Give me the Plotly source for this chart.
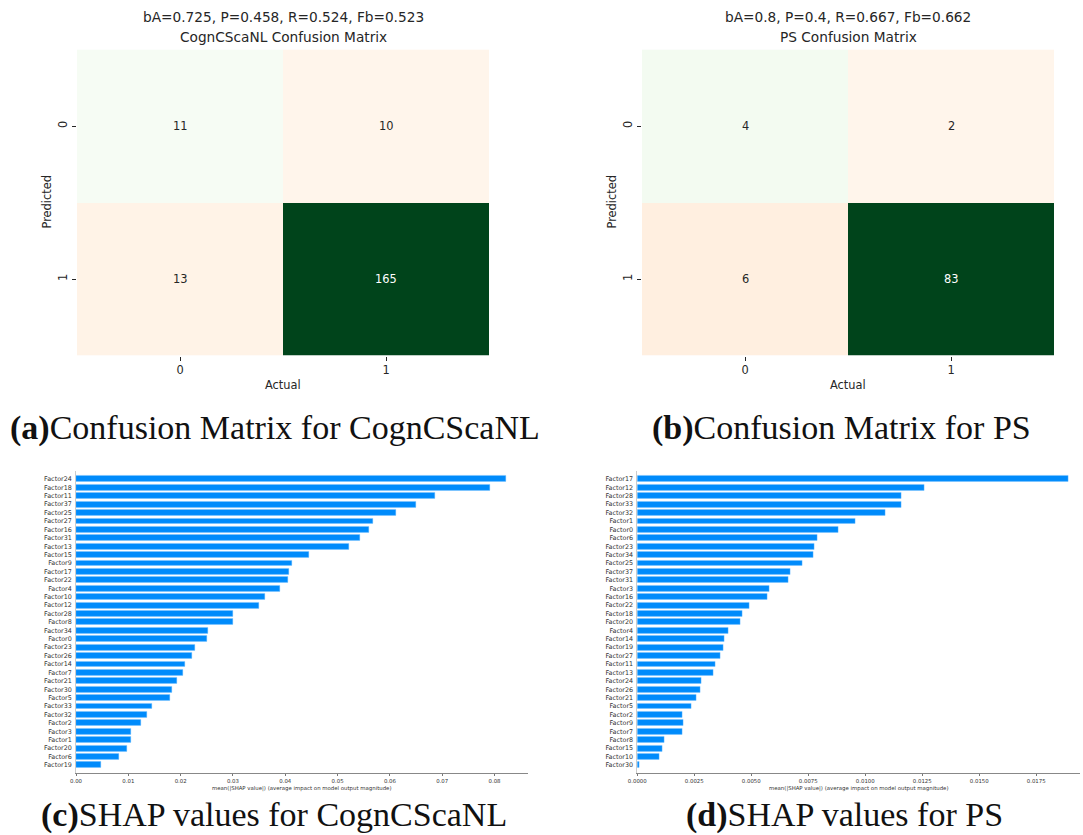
import numpy as np
import plotly.graph_objects as go

W, H = 1083, 835

# ---------------- data ----------------
cm_labels = [0, 1]
cm_a = [[11, 10], [13, 165]]
cm_b = [[4, 2], [6, 83]]
title_a = ["bA=0.725, P=0.458, R=0.524, Fb=0.523", "CognCScaNL Confusion Matrix"]
title_b = ["bA=0.8, P=0.4, R=0.667, Fb=0.662", "PS Confusion Matrix"]

shap_c_features = ["Factor24", "Factor18", "Factor11", "Factor37", "Factor25", "Factor27", "Factor16",
                    "Factor31", "Factor13", "Factor15", "Factor9", "Factor17", "Factor22", "Factor4",
                    "Factor10", "Factor12", "Factor28", "Factor8", "Factor34", "Factor0", "Factor23",
                    "Factor26", "Factor14", "Factor7", "Factor21", "Factor30", "Factor5", "Factor33",
                    "Factor32", "Factor2", "Factor3", "Factor1", "Factor20", "Factor6", "Factor19"]
shap_c_values = [0.0821, 0.0792, 0.0686, 0.0650, 0.0611, 0.0568, 0.0560,
                 0.0543, 0.0522, 0.0446, 0.0413, 0.0408, 0.0406, 0.0390,
                 0.0362, 0.0349, 0.0301, 0.0301, 0.0252, 0.0250, 0.0228,
                 0.0222, 0.0208, 0.0204, 0.0193, 0.0184, 0.0180, 0.0145,
                 0.0135, 0.0125, 0.0105, 0.0105, 0.0097, 0.0083, 0.0048]
shap_c_ticks = [0.00, 0.01, 0.02, 0.03, 0.04, 0.05, 0.06, 0.07, 0.08]

shap_d_features = ["Factor17", "Factor12", "Factor28", "Factor33", "Factor32", "Factor1", "Factor0",
                   "Factor6", "Factor23", "Factor34", "Factor25", "Factor37", "Factor31", "Factor3",
                   "Factor16", "Factor22", "Factor18", "Factor20", "Factor4", "Factor14", "Factor19",
                   "Factor27", "Factor11", "Factor13", "Factor24", "Factor26", "Factor21", "Factor5",
                   "Factor2", "Factor9", "Factor7", "Factor8", "Factor15", "Factor10", "Factor30"]
shap_d_values = [0.01890, 0.01259, 0.01160, 0.01158, 0.01087, 0.00955, 0.00883,
                 0.00788, 0.00775, 0.00770, 0.00722, 0.00670, 0.00664, 0.00580,
                 0.00570, 0.00490, 0.00462, 0.00453, 0.00400, 0.00380, 0.00376,
                 0.00362, 0.00343, 0.00332, 0.00282, 0.00275, 0.00260, 0.00238,
                 0.00199, 0.00200, 0.00198, 0.00120, 0.00110, 0.00095, 0.00010]
shap_d_ticks = [0.0, 0.0025, 0.005, 0.0075, 0.01, 0.0125, 0.015, 0.0175]
shap_xlabel = "mean(|SHAP value|) (average impact on model output magnitude)"

captions = ["<b>(a)</b>Confusion Matrix for CognCScaNL", "<b>(b)</b>Confusion Matrix for PS",
            "<b>(c)</b>SHAP values for CognCScaNL", "<b>(d)</b>SHAP values for PS"]

# ---------------- styles ----------------
greens = ["#f7fcf5", "#e5f5e0", "#c7e9c0", "#a1d99b", "#74c476", "#41ab5d", "#238b45", "#006d2c", "#00441b"]
oranges = ["#fff5eb", "#fee6ce", "#fdd0a2", "#fdae6b", "#fd8d3c", "#f16913", "#d94801", "#a63603", "#7f2704"]


def cs(cols):
    n = len(cols) - 1
    return [[i / n, c] for i, c in enumerate(cols)]


def px(x):
    return x / W


def py(y):
    return 1 - y / H


FONT = "DejaVu Sans"
TXT = "#262626"

fig = go.Figure()
annotations = []

cm_panels = [
    dict(cm=cm_a, titles=title_a, x0=77, x1=489, xax="x", yax="y", n=""),
    dict(cm=cm_b, titles=title_b, x0=642, x1=1054, xax="x2", yax="y2", n="2"),
]
cm_y0, cm_y1 = 49.5, 355.5

for p in cm_panels:
    m = np.array(p["cm"], dtype=float)
    zmin, zmax = m.min(), m.max()
    diag = np.where(np.eye(2, dtype=bool), m, np.nan)
    off = np.where(~np.eye(2, dtype=bool), m, np.nan)
    for z, col in ((diag, greens), (off, oranges)):
        zz = [[None if np.isnan(v) else v for v in row] for row in z]
        fig.add_trace(go.Heatmap(z=zz, x=cm_labels, y=cm_labels, colorscale=cs(col), zmin=zmin, zmax=zmax,
                                 showscale=False, hoverinfo="skip", xaxis=p["xax"], yaxis=p["yax"]))
    thr = (zmin + zmax) / 2
    for i, row in enumerate(p["cm"]):
        for j, v in enumerate(row):
            annotations.append(dict(x=cm_labels[j], y=cm_labels[i], xref=p["xax"], yref=p["yax"],
                                    text=str(v), showarrow=False,
                                    font=dict(family=FONT, size=11.4, color="#ffffff" if v > thr else TXT)))
    cx = (p["x0"] + p["x1"]) / 2
    for k, t in enumerate(p["titles"]):
        annotations.append(dict(x=px(cx), y=py(17 + 20 * k), xref="paper", yref="paper", text=t,
                                showarrow=False, xanchor="center", yanchor="middle",
                                font=dict(family=FONT, size=13.7, color=TXT)))
    annotations.append(dict(x=px(cx), y=py(385), xref="paper", yref="paper", text="Actual",
                            showarrow=False, xanchor="center", yanchor="middle",
                            font=dict(family=FONT, size=11.4, color=TXT)))
    annotations.append(dict(x=px(p["x0"] - 30), y=py((cm_y0 + cm_y1) / 2), xref="paper", yref="paper",
                            text="Predicted", showarrow=False, xanchor="center", yanchor="middle",
                            textangle=-90, font=dict(family=FONT, size=11.4, color=TXT)))
    fig.layout["xaxis" + p["n"]] = dict(domain=[px(p["x0"]), px(p["x1"])], anchor=p["yax"], automargin=False,
                                        range=[-0.5, 1.5], tickvals=cm_labels, ticks="outside", ticklen=4,
                                        tickwidth=1, tickcolor=TXT, showgrid=False, zeroline=False,
                                        showline=False, tickfont=dict(family=FONT, size=11.4, color=TXT))
    fig.layout["yaxis" + p["n"]] = dict(domain=[py(cm_y1), py(cm_y0)], anchor=p["xax"], automargin=False,
                                        range=[1.5, -0.5], tickvals=cm_labels, ticks="outside", ticklen=4,
                                        tickwidth=1, tickcolor=TXT, showgrid=False, zeroline=False,
                                        showline=False, tickangle=-90,
                                        tickfont=dict(family=FONT, size=11.4, color=TXT))

# ---------------- SHAP panels ----------------
sh_y0, sh_y1 = 470.6, 773.4
shap_panels = [
    dict(feat=shap_c_features, vals=shap_c_values, ticks=shap_c_ticks, x0=76, x1=528, xmax=0.0864,
         fmt=".2f", xax="x3", yax="y3", n="3"),
    dict(feat=shap_d_features, vals=shap_d_values, ticks=shap_d_ticks, x0=637.3, x1=1080, xmax=0.01942,
         fmt=".4f", xax="x4", yax="y4", n="4"),
]
for p in shap_panels:
    feats = p["feat"][::-1]
    vals = p["vals"][::-1]
    fig.add_trace(go.Bar(x=vals, y=feats, orientation="h", width=0.7,
                         marker=dict(color="#008bfb", line=dict(width=0.4, color="#7cc4ff")),
                         hoverinfo="skip", xaxis=p["xax"], yaxis=p["yax"]))
    fig.layout["xaxis" + p["n"]] = dict(domain=[px(p["x0"]), px(p["x1"])], anchor=p["yax"], automargin=False,
                                        range=[0, p["xmax"]], tickvals=p["ticks"], tickformat=p["fmt"],
                                        ticks="outside", ticklen=2, tickwidth=0.6, tickcolor="#777777",
                                        showline=True, linecolor="#888888", linewidth=0.8, showgrid=False,
                                        zeroline=False, tickfont=dict(family=FONT, size=5.4, color="#333333"))
    fig.layout["yaxis" + p["n"]] = dict(domain=[py(sh_y1), py(sh_y0)], anchor=p["xax"], automargin=False,
                                        type="category", categoryorder="array", categoryarray=feats,
                                        range=[-1, len(feats)], showline=True, linecolor="#cccccc",
                                        linewidth=0.8, ticks="", showgrid=False, zeroline=False,
                                        ticklabelstandoff=2,
                                        tickfont=dict(family=FONT, size=6.4, color="#333333"))
    annotations.append(dict(x=px((p["x0"] + p["x1"]) / 2), y=py(788), xref="paper", yref="paper",
                            text=shap_xlabel, showarrow=False, xanchor="center", yanchor="middle",
                            font=dict(family=FONT, size=5.4, color="#333333")))

# ---------------- captions ----------------
cap_pos = [(275, 428), (841, 428), (274, 815), (844, 815)]
for t, (cx, cy) in zip(captions, cap_pos):
    annotations.append(dict(x=px(cx), y=py(cy), xref="paper", yref="paper", text=t, showarrow=False,
                            xanchor="center", yanchor="middle",
                            font=dict(family="Liberation Serif", size=34, color="#111111")))

fig.update_layout(width=W, height=H, margin=dict(l=0, r=0, t=0, b=0), paper_bgcolor="white",
                  plot_bgcolor="white", showlegend=False, annotations=annotations, bargap=0)

fig.write_html("out.html")
